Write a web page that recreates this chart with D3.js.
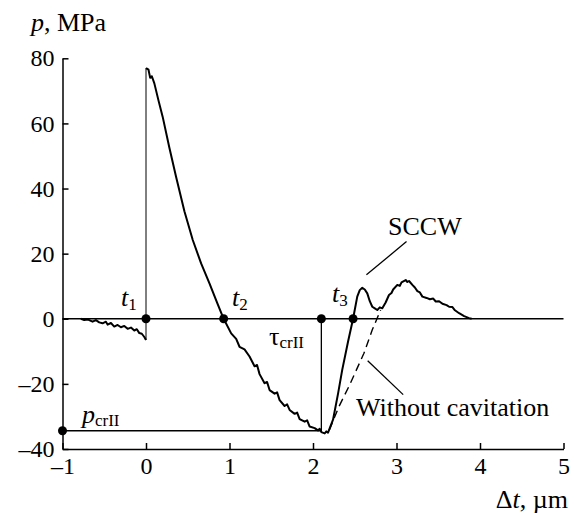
<!DOCTYPE html>
<html>
<head>
<meta charset="utf-8">
<title>p(t)</title>
<script src="https://cdn.jsdelivr.net/npm/d3@7"></script>
<style>
  body { margin: 0; background: #fff; }
  svg, svg text { font-family: "Liberation Serif", "Times New Roman", serif; }
  .axis path, .axis line { stroke: #000; stroke-width: 1.5px; }
  .axis text { font-family: "Liberation Serif", "Times New Roman", serif; font-size: 24px; fill: #000; }
  .curve { fill: none; stroke: #000; stroke-width: 2px; stroke-linejoin: round; }
  .lbl { font-size: 26px; fill: #000; }
  .sub { font-size: 17px; }
</style>
</head>
<body>
<script>
// x ticks (Δt, µm) and y ticks (p, MPa)
var xTicks = [-1, 0, 1, 2, 3, 4, 5];
var yTicks = [-40, -20, 0, 20, 40, 60, 80];

// measured pressure before the front (x, p)
var preFront = [
  [-0.78, 0], [-0.74, -0.4], [-0.7, -0.2], [-0.64, -0.9], [-0.6, -0.4], [-0.56, -1.1],
  [-0.52, -1.4], [-0.48, -0.9], [-0.46, -1.8], [-0.42, -1.3], [-0.38, -2.4],
  [-0.34, -1.9], [-0.3, -2.6], [-0.26, -2.2], [-0.22, -3.1], [-0.18, -2.7],
  [-0.14, -3.6], [-0.11, -3.2], [-0.08, -4.4], [-0.05, -4.6], [-0.02, -5.6], [0, -6.5]
];

// measured pressure after the front
var postFront = [
  [0.0, 77], [0.03, 76.5], [0.05, 74], [0.07, 74.5], [0.1, 72.3], [0.15, 67],
  [0.2, 62], [0.28, 52.5], [0.36, 43.6], [0.46, 33], [0.56, 24.2], [0.66, 17],
  [0.76, 10.9], [0.85, 5], [0.93, 0], [1.02, -4.5], [1.08, -6.2], [1.12, -8.6],
  [1.18, -9.4], [1.24, -11.6], [1.3, -14.6], [1.33, -14.2], [1.36, -17],
  [1.42, -19.8], [1.45, -19.4], [1.48, -21.9], [1.54, -23], [1.57, -22.6],
  [1.6, -25], [1.66, -26.8], [1.69, -26.3], [1.72, -28], [1.78, -29.2],
  [1.81, -28.8], [1.84, -30.8], [1.9, -31.6], [1.93, -31.2], [1.96, -33.1],
  [2.02, -33.6], [2.06, -34.3], [2.08, -33.8], [2.1, -34.8], [2.14, -35.2],
  [2.16, -34.6], [2.18, -35], [2.24, -31], [2.3, -23], [2.35, -15.7], [2.42, -7],
  [2.48, 0], [2.53, 6.8], [2.56, 8.8], [2.59, 9.5], [2.62, 9], [2.65, 7.8],
  [2.68, 5.4], [2.71, 3.7], [2.74, 3.2], [2.77, 2.7], [2.8, 3.5], [2.83, 3.2],
  [2.87, 5], [2.91, 7.3], [2.94, 7.9], [2.96, 9], [3.01, 10.4], [3.04, 10.1],
  [3.06, 11.2], [3.11, 11.9], [3.13, 11.3], [3.15, 11.6], [3.19, 10.4],
  [3.22, 9.6], [3.25, 8.5], [3.28, 8.1], [3.31, 6.8], [3.36, 6.4], [3.4, 6],
  [3.44, 6.2], [3.47, 5.3], [3.51, 5.4], [3.55, 4.6], [3.6, 4.2], [3.63, 3.7],
  [3.67, 3.6], [3.7, 2.6], [3.75, 1.7], [3.81, 0.8], [3.87, 0.2], [3.9, 0]
];

// expected pressure without cavitation (dashed)
var noCavitation = [
  [2.195, -34.2], [2.31, -27], [2.43, -20.8], [2.61, -10.6], [2.71, -3.4], [2.81, 2.7]
];

// characteristic points
var tPoints = [[0, 0], [0.93, 0], [2.1, 0], [2.48, 0]];
var pCrit = -34.4, tauCrit = 2.1;

// annotation leaders
var sccwLeader = [[2.64, 13.5], [3.12, 23.7]];
var noCavLeader = [[2.655, -12.9], [3.08, -23.3]];

var W = 574, H = 513;
var x = d3.scaleLinear().domain([-1, 5]).range([62.5, 563.5]);
var y = d3.scaleLinear().domain([-40, 80]).range([449, 58.3]);

var svg = d3.select("body").append("svg")
  .attr("width", W).attr("height", H);

var line = d3.line()
  .x(function(d) { return x(d[0]); })
  .y(function(d) { return y(d[1]); });

var dash = function(d) { return String(d).replace(/-/, "\u2013"); };

svg.append("g")
  .attr("class", "axis")
  .attr("transform", "translate(0," + y(-40) + ")")
  .call(d3.axisBottom(x).tickValues(xTicks).tickSizeInner(-6).tickSizeOuter(0)
    .tickPadding(8).tickFormat(dash));

svg.append("g")
  .attr("class", "axis")
  .attr("transform", "translate(" + x(-1) + ",0)")
  .call(d3.axisLeft(y).tickValues(yTicks).tickSizeInner(-6).tickSizeOuter(0)
    .tickPadding(8).tickFormat(dash));

// let the css font win over d3's defaults
svg.selectAll(".axis").attr("font-size", null).attr("font-family", null);

// zero line
svg.append("path").attr("class", "curve").style("stroke-width", "1.5px")
  .attr("d", line([[-1, 0], [5, 0]]));

// p_crII and tau_crII guides
svg.append("path").attr("class", "curve").style("stroke-width", "1.3px")
  .attr("d", line([[-1, pCrit], [tauCrit, pCrit], [tauCrit, 0]]));

// curves
svg.append("path").attr("class", "curve").style("stroke-width", "1px")
  .attr("d", line([preFront[preFront.length - 1], postFront[0]]));
svg.append("path").attr("class", "curve").attr("d", line(preFront));
svg.append("path").attr("class", "curve").attr("d", line(postFront));
svg.append("path").attr("class", "curve")
  .style("stroke-width", "1.4px").style("stroke-dasharray", "8,5")
  .attr("d", line(noCavitation));

// leaders
[sccwLeader, noCavLeader].forEach(function(l) {
  svg.append("path").attr("class", "curve").style("stroke-width", "1.3px")
    .attr("d", line(l));
});

// dots
svg.selectAll(".dot").data(tPoints.concat([[-1, pCrit]]))
  .enter().append("circle")
  .attr("cx", function(d) { return x(d[0]); })
  .attr("cy", function(d) { return y(d[1]); })
  .attr("r", 4.5).attr("fill", "#000");

// labels
function label(px, py, parts, anchor) {
  var t = svg.append("text").attr("class", "lbl")
    .attr("x", px).attr("y", py).attr("text-anchor", anchor || "start");
  parts.forEach(function(p) {
    var s = t.append("tspan").text(p.t);
    if (p.i) s.attr("font-style", "italic");
    if (p.sub) s.attr("class", "sub").attr("dy", p.dy || 4);
  });
  return t;
}

label(31, 31, [{t: "p", i: 1}, {t: ", MPa"}]);
label(568, 508, [{t: "\u0394"}, {t: "t", i: 1}, {t: ", \u00b5m"}], "end");
label(121, 306, [{t: "t", i: 1}, {t: "1", sub: 1}]);
label(232, 306, [{t: "t", i: 1}, {t: "2", sub: 1}]);
label(332, 302, [{t: "t", i: 1}, {t: "3", sub: 1}]);
label(269, 345, [{t: "\u03c4"}, {t: "crII", sub: 1, dy: 3}]);
label(82, 423, [{t: "p", i: 1}, {t: "crII", sub: 1, dy: 3}]);
label(388, 235, [{t: "SCCW"}]);
label(356, 416, [{t: "Without cavitation"}]);
</script>
</body>
</html>
